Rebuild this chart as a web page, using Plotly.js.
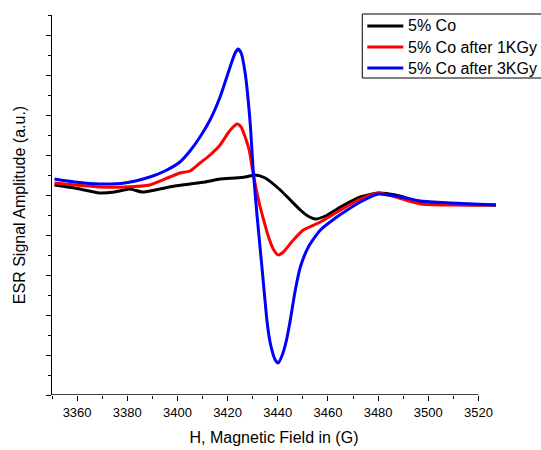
<!DOCTYPE html>
<html>
<head>
<meta charset="utf-8">
<script src="https://cdn.plot.ly/plotly-3.0.1.min.js"></script>
<style>html,body{margin:0;padding:0;background:#fff;}#chart{width:541px;height:450px;}</style>
</head>
<body>
<div id="chart"></div>
<script>
// Series names
const seriesNames = ["5% Co", "5% Co after 1KGy", "5% Co after 3KGy"];
const seriesColors = ['#000000', '#ff0000', '#0000ff'];

// 5% Co (black)
const coField = [3351, 3359, 3369, 3375, 3381, 3386, 3393, 3399, 3405, 3411, 3417, 3423, 3427, 3431, 3435, 3441, 3445, 3449, 3452, 3455, 3459, 3465, 3473, 3480, 3487, 3497, 3505, 3517, 3527];
const coSignal = [10.5, 10.35, 10.1, 10.15, 10.3, 10.15, 10.3, 10.45, 10.55, 10.65, 10.8, 10.85, 10.9, 11.0, 10.85, 10.25, 9.75, 9.25, 8.95, 8.8, 8.95, 9.4, 9.9, 10.1, 10.0, 9.65, 9.55, 9.5, 9.5];

// 5% Co after 1KGy (red)
const co1Field = [3351, 3359, 3369, 3379, 3389, 3397, 3401, 3405, 3409, 3413, 3417, 3420.2, 3421.8, 3423.8, 3425.4, 3427, 3428.6, 3429.8, 3431.4, 3433, 3434.6, 3436.2, 3438.2, 3440.2, 3442.2, 3446.2, 3450.2, 3457, 3465, 3473, 3480, 3487, 3497, 3509, 3527];
const co1Signal = [10.6, 10.5, 10.4, 10.4, 10.5, 10.9, 11.1, 11.2, 11.6, 12.0, 12.5, 13.1, 13.35, 13.55, 13.4, 12.9, 12.25, 11.35, 10.3, 9.4, 8.65, 7.95, 7.3, 7.0, 7.15, 7.75, 8.25, 8.65, 9.25, 9.8, 10.1, 9.9, 9.55, 9.5, 9.5];

// 5% Co after 3KGy (blue)
const co3Field = [3351, 3359, 3369, 3379, 3389, 3395, 3401, 3405, 3409, 3413, 3417, 3421, 3423, 3424.2, 3425.4, 3427, 3429, 3430.2, 3431.8, 3433.8, 3435.8, 3437.0, 3439.0, 3440.2, 3441.8, 3443.4, 3445, 3447, 3449, 3452.2, 3457, 3463, 3467.7, 3472.9, 3480, 3487, 3497, 3509, 3527];
const co3Signal = [10.8, 10.65, 10.55, 10.6, 10.9, 11.2, 11.65, 12.2, 12.9, 13.75, 14.9, 16.4, 17.1, 17.3, 17.1, 16.1, 13.6, 11.25, 8.9, 6.25, 3.6, 2.6, 1.75, 1.6, 2.0, 2.7, 3.75, 5.25, 6.4, 7.4, 8.25, 8.85, 9.25, 9.65, 10.05, 9.95, 9.7, 9.6, 9.5];

const FONT = "Arial, 'Liberation Sans', sans-serif";

// plot area geometry (pixels)
const W = 541, H = 450, ML = 52, MR = 45.4, MT = 15, MB = 55;
const PW = W - ML - MR, PH = H - MT - MB;
const px2paperX = px => (px - ML) / PW;
const py2paperY = py => (H - MB - py) / PH;

const mk = (x, y, i) => ({
  x: x, y: y, name: seriesNames[i], type: 'scatter', mode: 'lines',
  line: {color: seriesColors[i], width: 3, shape: 'spline', smoothing: 0.6},
  showlegend: false
});

const data = [
  mk(coField, coSignal, 0),
  mk(co1Field, co1Signal, 1),
  mk(co3Field, co3Signal, 2)
];

// manual legend (box, line samples, labels)
const legendRowsY = [26, 47, 68];
const shapes = [
  {type: 'line', xref: 'x', yref: 'y', x0: 3350, x1: 3520, y0: 0, y1: 0,
   line: {color: '#000', width: 1.3}, layer: 'above'},
  {type: 'rect', xref: 'paper', yref: 'paper',
   x0: px2paperX(362), x1: px2paperX(560), y0: py2paperY(78), y1: py2paperY(14),
   line: {color: '#000', width: 1}, fillcolor: '#fff', layer: 'above'}
];
const annotations = [];
seriesNames.forEach((nm, i) => {
  shapes.push({type: 'line', xref: 'paper', yref: 'paper',
    x0: px2paperX(367), x1: px2paperX(403), y0: py2paperY(legendRowsY[i]), y1: py2paperY(legendRowsY[i]),
    line: {color: seriesColors[i], width: 3}, layer: 'above'});
  annotations.push({xref: 'paper', yref: 'paper', x: px2paperX(406), y: py2paperY(legendRowsY[i]),
    xanchor: 'left', yanchor: 'middle', showarrow: false, text: nm,
    font: {family: FONT, size: 16, color: '#000'}});
});

const layout = {
  width: W, height: H,
  margin: {l: ML, r: MR, t: MT, b: MB, pad: 0},
  paper_bgcolor: '#fff', plot_bgcolor: '#fff',
  font: {family: FONT, color: '#000', size: 13},
  showlegend: false,
  xaxis: {
    range: [3350, 3527], showline: false, zeroline: false, showgrid: false,
    tickmode: 'linear', tick0: 3360, dtick: 20,
    ticks: 'outside', ticklen: 5, tickwidth: 1, tickcolor: '#000',
    tickfont: {family: FONT, size: 13, color: '#000'},
    minor: {ticks: 'outside', ticklen: 3, tickwidth: 1, tickcolor: '#000', dtick: 10, tick0: 3350, showgrid: false},
    title: {text: 'H, Magnetic Field in (G)', font: {family: FONT, size: 16, color: '#000'}, standoff: 13},
    automargin: false, fixedrange: true
  },
  yaxis: {
    range: [0, 19], showline: true, linecolor: '#000', linewidth: 1, mirror: false,
    zeroline: false, showgrid: false, showticklabels: false,
    tickmode: 'linear', tick0: 0, dtick: 2,
    ticks: 'outside', ticklen: 5, tickwidth: 1, tickcolor: '#000',
    minor: {ticks: 'outside', ticklen: 3, tickwidth: 1, tickcolor: '#000', dtick: 1, tick0: 0, showgrid: false},
    title: {text: 'ESR Signal Amplitude (a.u.)', font: {family: FONT, size: 16, color: '#000'}, standoff: 16},
    automargin: false, fixedrange: true
  },
  shapes: shapes,
  annotations: annotations
};

Plotly.newPlot('chart', data, layout, {staticPlot: true, displayModeBar: false});
</script>
</body>
</html>
